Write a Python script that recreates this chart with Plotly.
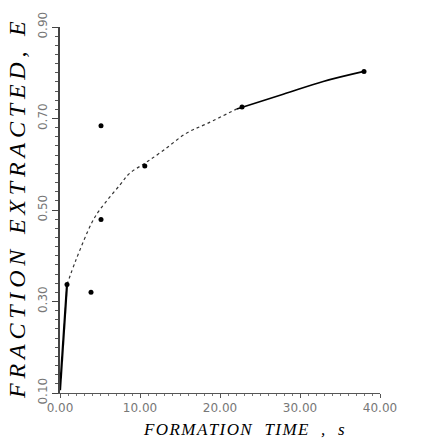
import plotly.graph_objects as go

# Fitted curve
curve_x = [0.0, 0.375, 0.875, 2.0, 4.0, 5.0, 7.5, 8.75, 10.6, 12.9, 15.9, 18.4, 22.1, 27.9, 32.9, 38.0]
curve_y = [0.106, 0.214, 0.337, 0.391, 0.473, 0.501, 0.555, 0.581, 0.602, 0.630, 0.669, 0.689, 0.721, 0.753, 0.781, 0.803]

# Measured points
point_x = [0.875, 3.875, 5.125, 5.125, 10.6, 22.75, 38.0]
point_y = [0.337, 0.320, 0.684, 0.479, 0.596, 0.725, 0.803]

y_ticks = [0.10, 0.30, 0.50, 0.70, 0.90]
y_ticktext = ["0.10", "0.30", "0.50", "0.70", "0.90"]
x_ticks = [0, 10, 20, 30, 40]
x_ticktext = ["0.00", "10.00", "20.00", "30.00", "40.00"]

x_title = "FORMATION  TIME  ,  s"
y_title = "FRACTION EXTRACTED, E"


def spaced(s, sep):
    return sep.join(list(s))


fig = go.Figure()
fig.add_trace(go.Scatter(x=curve_x[:3], y=curve_y[:3], mode="lines",
                         line=dict(color="black", width=2.2), showlegend=False))
fig.add_trace(go.Scatter(x=curve_x[2:13], y=curve_y[2:13], mode="lines",
                         line=dict(color="#333", width=1.2, dash="dot", shape="spline"),
                         showlegend=False))
fig.add_trace(go.Scatter(x=curve_x[12:], y=curve_y[12:], mode="lines",
                         line=dict(color="black", width=1.6, shape="spline"), showlegend=False))
fig.add_trace(go.Scatter(x=point_x, y=point_y, mode="markers",
                         marker=dict(color="black", size=5), showlegend=False))

tickfont = dict(family="DejaVu Sans", size=12, color="#777")
fig.update_layout(
    width=446, height=439,
    margin=dict(l=60, r=66, t=22, b=46),
    paper_bgcolor="white", plot_bgcolor="white",
    font=dict(family="Liberation Serif", color="black"),
    xaxis=dict(range=[0, 40], showgrid=False, zeroline=False, showline=True,
               linecolor="#555", linewidth=1, ticks="outside", ticklen=4,
               tickcolor="#555", tickvals=x_ticks, ticktext=x_ticktext,
               tickfont=tickfont,
               minor=dict(dtick=1, ticks="outside", ticklen=2, tickcolor="#777")),
    yaxis=dict(range=[0.10, 0.90], showgrid=False, zeroline=False, showline=True,
               linecolor="#444", linewidth=1.5, ticks="outside", ticklen=6,
               tickcolor="#444", tickvals=y_ticks, ticktext=y_ticktext,
               tickangle=-90, tickfont=tickfont,
               minor=dict(dtick=0.02, ticks="outside", ticklen=3, tickcolor="#555")),
    annotations=[
        dict(text="<i>" + spaced(x_title, "\u200a") + "</i>", xref="paper", yref="paper",
             x=(244 - 60) / 320, y=-(430 - 393) / 371, xanchor="center", yanchor="middle",
             showarrow=False, font=dict(family="Liberation Serif", size=17, color="black")),
        dict(text="<i>" + spaced(y_title, "\u2009") + "</i>", xref="paper", yref="paper",
             x=-(60 - 17) / 320, y=0.5, xanchor="center", yanchor="middle",
             textangle=-90, showarrow=False,
             font=dict(family="Liberation Serif", size=24, color="black")),
    ],
)

fig.write_html("out.html")
